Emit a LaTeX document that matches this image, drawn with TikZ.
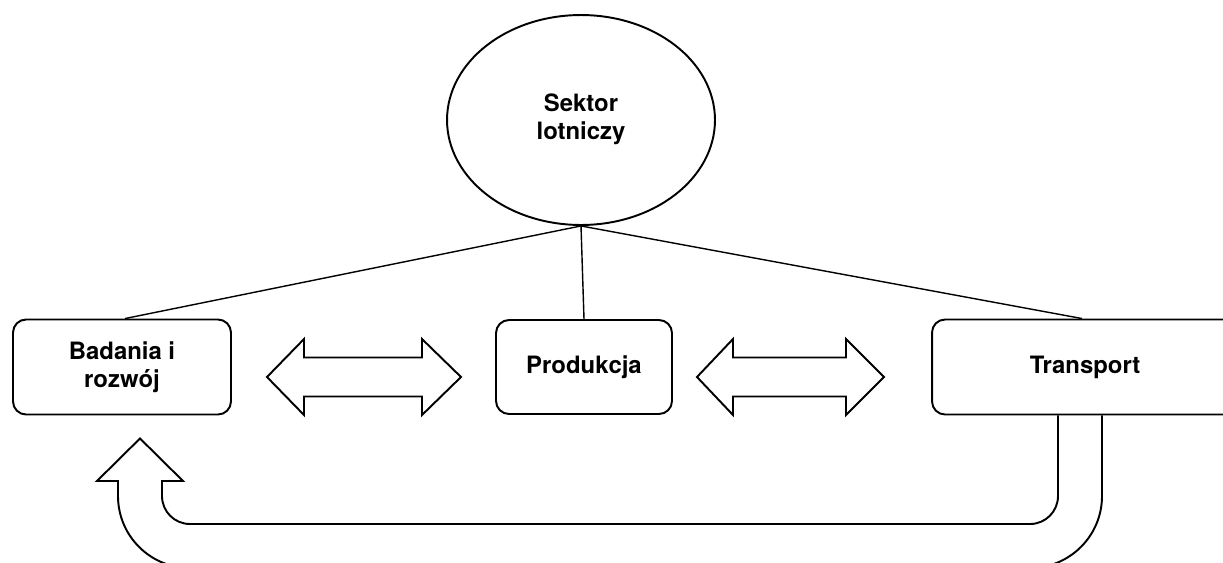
\documentclass[tikz,border=0pt]{standalone}
\usepackage{fontspec}
\setmainfont{TeX Gyre Heros}
\usetikzlibrary{shapes.geometric, calc}
\tikzstyle{sector}=[ellipse,minimum width=5.36cm,minimum height=4.2cm,inner sep=0pt,text centered,align=center,draw=black,line width=1.1pt,font=\fontsize{13.6}{16}\selectfont\bfseries]
\tikzstyle{branch}=[rectangle,rounded corners=0.26cm,minimum height=1.9cm,text centered,align=center,draw=black,line width=1.1pt,font=\fontsize{13.6}{16}\selectfont\bfseries]
\tikzstyle{link} = [line width=0.8pt]
\tikzstyle{blockarrow} = [line width=1.1pt,line join=miter]

\begin{document}
\begin{tikzpicture}[x=0.02cm,y=-0.02cm]
\useasboundingbox (0,0) rectangle (1223,562);
\clip (0,0) rectangle (1223,562);

\node (sek) [sector] at (581,120) {\raisebox{-3pt}{\begin{tabular}{@{}c@{}}Sektor\\lotniczy\end{tabular}}};
\node (bad) [branch,minimum width=4.36cm] at (122,367) {Badania i\\rozwój};
\node (prod) [branch,minimum width=3.52cm,minimum height=1.88cm] at (584,367) {Produkcja};
\node (tr) [branch,minimum width=6.12cm] at (1085,367) {Transport};

\draw[link] (sek.south) -- ($(bad.north)+(3,0)$);
\draw[link] (sek.south) -- (prod.north);
\draw[link] (sek.south) -- ($(tr.north)+(-3,0)$);

% double arrows between the boxes
\draw[blockarrow] (267,377) -- (304,339) -- (304,357.5) -- (422,357.5) -- (422,339) -- (461,377)
  -- (422,415) -- (422,396.5) -- (304,396.5) -- (304,415) -- cycle;
\draw[blockarrow] (697,377) -- (733,339) -- (733,357.5) -- (846,357.5) -- (846,339) -- (884,377)
  -- (846,415) -- (846,396.5) -- (733,396.5) -- (733,415) -- cycle;

% return arrow from transport back to research
\coordinate (tip) at ($(bad.south)+(18,23)$);
\draw[blockarrow] ($(tr.south)+(-27,0)$) -- (1058,496) .. controls (1058,511.5) and (1045.5,524) .. (1030,524)
  -- (190,524) .. controls (174.5,524) and (162,511.5) .. (162,496)
  -- (162,481) -- (183,481) -- (tip) -- (97,481) -- (118,481)
  -- (118,496) .. controls (118,535.8) and (150.2,568) .. (190,568)
  -- (1030,568) .. controls (1069.8,568) and (1102,535.8) .. (1102,496)
  -- ($(tr.south)+(17,0)$);
\end{tikzpicture}
\end{document}
